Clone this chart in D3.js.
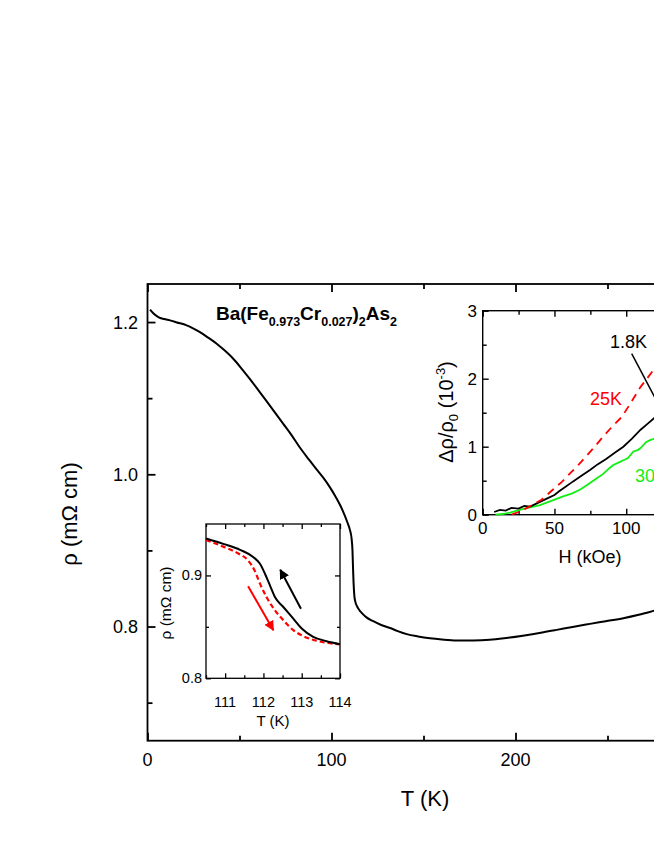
<!DOCTYPE html>
<head>
  <meta charset="utf-8">
  <script src="https://cdn.jsdelivr.net/npm/d3@7"></script>
  <style>
    body { margin:0; background:#fff; }
    svg { display:block; }
    text { font-family: "Liberation Sans", Arial, sans-serif; fill:#000; }
  </style>
</head>
<body>
<script>
// main curve: rho(T)
var mainT = [1.4, 3, 5.9, 9, 12.2, 16, 21.3, 25, 28.5, 33, 37.6, 42, 46.6, 51, 55.7, 60, 64.8, 69, 73.8, 78, 83, 88, 92, 95.5, 99, 102, 104.8, 107, 108.6, 110, 110.9, 111.4, 111.7, 112, 112.4, 113, 114, 115.3, 116.4, 119, 122.7, 127, 131.8, 136, 140.9, 147, 153.5, 160, 168, 177, 186, 195, 204, 213, 222.4, 231, 240.5, 249, 258.6, 267, 275.3, 285, 295];
var mainRho = [1.2163, 1.212, 1.2066, 1.204, 1.2022, 1.1995, 1.1957, 1.1915, 1.1868, 1.1795, 1.1716, 1.1625, 1.1518, 1.1393, 1.125, 1.1113, 1.0957, 1.082, 1.0663, 1.0525, 1.0345, 1.0185, 1.006, 0.9955, 0.9835, 0.9715, 0.959, 0.947, 0.937, 0.927, 0.916, 0.9, 0.877, 0.857, 0.841, 0.832, 0.826, 0.821, 0.818, 0.812, 0.807, 0.802, 0.798, 0.794, 0.79, 0.787, 0.7846, 0.783, 0.7818, 0.7818, 0.7826, 0.785, 0.788, 0.7915, 0.7956, 0.7995, 0.8035, 0.807, 0.811, 0.8155, 0.8207, 0.827, 0.833];

// small inset: hysteresis around the transition
var warmT = [110.5, 110.95, 111.39, 111.74, 111.91, 112.04, 112.17, 112.3, 112.52, 112.78, 113.0, 113.3, 113.65, 114];
var warmRho = [0.936, 0.9307, 0.9249, 0.9177, 0.9113, 0.9016, 0.8903, 0.879, 0.8693, 0.858, 0.8484, 0.8403, 0.8361, 0.8332];
var coolT = [110.5, 110.95, 111.33, 111.6, 111.77, 111.91, 112.08, 112.3, 112.52, 112.78, 113.04, 113.39, 114];
var coolRho = [0.9345, 0.928, 0.9216, 0.9145, 0.9048, 0.892, 0.879, 0.8661, 0.8565, 0.8468, 0.841, 0.8365, 0.833];
var arrowUp = [[112.98, 0.8677], [112.44, 0.9055]];
var arrowDown = [[111.6, 0.8894], [112.26, 0.8468]];

// right inset: magnetoresistance
var mrH18 = [8, 12, 16, 20, 25, 29, 33, 37, 41, 45, 50, 53, 57, 63, 68, 75, 80, 86, 92, 98, 104, 110, 115, 120, 125];
var mr18 = [0.04, 0.07, 0.06, 0.1, 0.09, 0.13, 0.12, 0.16, 0.2, 0.24, 0.29, 0.34, 0.4, 0.49, 0.56, 0.66, 0.74, 0.82, 0.91, 1.0, 1.12, 1.25, 1.34, 1.43, 1.55];
var mrH25 = [20, 25, 30, 35, 41, 49, 55, 61, 67, 72.5, 78, 84, 90, 97, 103, 110, 114.4, 119, 125];
var mr25 = [0, 0.04, 0.09, 0.15, 0.22, 0.37, 0.48, 0.61, 0.74, 0.87, 1.0, 1.15, 1.29, 1.44, 1.64, 1.88, 2.0, 2.13, 2.3];
var mrH30 = [9, 14, 19, 24, 29, 34, 40, 45, 51, 56, 62, 68, 73, 79, 84, 88, 91, 95, 98, 101, 105, 108, 110, 114, 117, 120, 125];
var mr30 = [0, 0.01, 0.03, 0.06, 0.09, 0.11, 0.14, 0.18, 0.23, 0.27, 0.31, 0.37, 0.44, 0.53, 0.6, 0.68, 0.73, 0.77, 0.8, 0.83, 0.93, 0.95, 0.98, 1.07, 1.1, 1.12, 1.2];

var width = 654, height = 846;
var svg = d3.select("body").append("svg").attr("width", width).attr("height", height);

svg.append("defs").selectAll("marker")
  .data([["headK", "#000"], ["headR", "#f00"]])
  .enter().append("marker")
  .attr("id", function(d) { return d[0]; })
  .attr("viewBox", "0 0 10 10").attr("refX", 9).attr("refY", 5)
  .attr("markerWidth", 5).attr("markerHeight", 5)
  .attr("markerUnits", "strokeWidth").attr("orient", "auto")
  .append("path").attr("d", "M0,0L10,5L0,10z").attr("fill", function(d) { return d[1]; });

// box with inward ticks on all four sides
function frame(g, x, y, xMajor, xMinor, yMajor, yMinor, bigT, smallT, lw) {
  var x0 = x.range()[0], x1 = x.range()[1], y0 = y.range()[0], y1 = y.range()[1];
  var ax = [
    [d3.axisBottom(x), "translate(0," + y0 + ")"],
    [d3.axisTop(x), "translate(0," + y1 + ")"]
  ];
  var ay = [
    [d3.axisLeft(y), "translate(" + x0 + ",0)"],
    [d3.axisRight(y), "translate(" + x1 + ",0)"]
  ];
  ax.forEach(function(a) {
    g.append("g").attr("transform", a[1]).call(a[0].tickValues(xMajor).tickSize(-bigT).tickFormat(""));
    g.append("g").attr("transform", a[1]).call(a[0].tickValues(xMinor).tickSize(-smallT).tickFormat(""));
  });
  ay.forEach(function(a) {
    g.append("g").attr("transform", a[1]).call(a[0].tickValues(yMajor).tickSize(-bigT).tickFormat(""));
    g.append("g").attr("transform", a[1]).call(a[0].tickValues(yMinor).tickSize(-smallT).tickFormat(""));
  });
  g.selectAll(".domain").remove();
  g.selectAll(".tick line").attr("stroke", "#000").attr("stroke-width", lw);
  g.append("rect").attr("x", x0).attr("y", y1).attr("width", x1 - x0).attr("height", y0 - y1)
    .attr("fill", "none").attr("stroke", "#000").attr("stroke-width", lw);
}

// ---- main plot ----
var x = d3.scaleLinear().domain([0, 300]).range([147.5, 699.5]);
var y = d3.scaleLinear().domain([0.65, 1.25]).range([740.7, 284]);
var main = svg.append("g");
frame(main, x, y, [0, 100, 200, 300], [50, 150, 250], [0.8, 1.0, 1.2], [0.7, 0.9, 1.1], 8, 5, 1.8);

main.selectAll("text.xt").data([0, 100, 200]).enter().append("text")
  .attr("x", function(d) { return x(d); }).attr("y", 766)
  .attr("text-anchor", "middle").style("font-size", "18px").text(function(d) { return d; });
main.selectAll("text.yt").data([0.8, 1.0, 1.2]).enter().append("text")
  .attr("x", 138).attr("y", function(d) { return y(d) + 6.5; })
  .attr("text-anchor", "end").style("font-size", "18px").text(function(d) { return d.toFixed(1); });
main.append("text").attr("x", 425).attr("y", 806).attr("text-anchor", "middle")
  .style("font-size", "22px").text("T (K)");
main.append("text").attr("transform", "translate(77,514) rotate(-90)").attr("text-anchor", "middle")
  .style("font-size", "22px").text("ρ (mΩ cm)");

var line = d3.line().x(function(d) { return x(d[0]); }).y(function(d) { return y(d[1]); }).curve(d3.curveMonotoneX);
main.append("path").datum(mainT.map(function(t, i) { return [t, mainRho[i]]; }))
  .attr("d", line).attr("fill", "none").attr("stroke", "#000").attr("stroke-width", 2);

var title = main.append("text").attr("x", 216).attr("y", 320)
  .style("font-size", "19px").style("font-weight", "bold");
[["Ba(Fe", 0], ["0.973", 1], ["Cr", 0], ["0.027", 1], [")", 0], ["2", 1], ["As", 0], ["2", 1]]
  .forEach(function(p, i, arr) {
    var prev = i > 0 ? arr[i - 1][1] : 0;
    title.append("tspan").attr("dy", (p[1] - prev) * 6)
      .style("font-size", p[1] ? "12.5px" : "19px").text(p[0]);
  });

// ---- small inset ----
var sx = d3.scaleLinear().domain([110.5, 114]).range([206, 340]);
var sy = d3.scaleLinear().domain([0.8, 0.95]).range([678.3, 524]);
var ins = svg.append("g");
ins.append("rect").attr("x", 206).attr("y", 524).attr("width", 134).attr("height", 154.3).attr("fill", "#fff");
frame(ins, sx, sy, [111, 112, 113, 114], [110.5, 111.5, 112.5, 113.5], [0.8, 0.9], [0.85], 5, 3, 1.3);
ins.selectAll("text.xt").data([111, 112, 113, 114]).enter().append("text")
  .attr("x", function(d) { return sx(d); }).attr("y", 707)
  .attr("text-anchor", "middle").style("font-size", "14.5px").text(function(d) { return d; });
ins.selectAll("text.yt").data([0.8, 0.9]).enter().append("text")
  .attr("x", 202).attr("y", function(d) { return sy(d) + 5; })
  .attr("text-anchor", "end").style("font-size", "14.5px").text(function(d) { return d.toFixed(1); });
ins.append("text").attr("x", 273).attr("y", 726).attr("text-anchor", "middle")
  .style("font-size", "15px").text("T (K)");
ins.append("text").attr("transform", "translate(171,603) rotate(-90)").attr("text-anchor", "middle")
  .style("font-size", "15.5px").text("ρ (mΩ cm)");

var sline = d3.line().x(function(d) { return sx(d[0]); }).y(function(d) { return sy(d[1]); }).curve(d3.curveMonotoneX);
ins.append("path").datum(coolT.map(function(t, i) { return [t, coolRho[i]]; }))
  .attr("d", sline).attr("fill", "none").attr("stroke", "#f00").attr("stroke-width", 2.2)
  .attr("stroke-dasharray", "5,3");
ins.append("path").datum(warmT.map(function(t, i) { return [t, warmRho[i]]; }))
  .attr("d", sline).attr("fill", "none").attr("stroke", "#000").attr("stroke-width", 2);
[[arrowUp, "#000", "headK"], [arrowDown, "#f00", "headR"]].forEach(function(a) {
  ins.append("line")
    .attr("x1", sx(a[0][0][0])).attr("y1", sy(a[0][0][1]))
    .attr("x2", sx(a[0][1][0])).attr("y2", sy(a[0][1][1]))
    .attr("stroke", a[1]).attr("stroke-width", 2).attr("marker-end", "url(#" + a[2] + ")");
});

// ---- right inset ----
var hx = d3.scaleLinear().domain([0, 150]).range([482.7, 698]);
var hy = d3.scaleLinear().domain([0, 3]).range([514.7, 310.7]);
var mr = svg.append("g");
mr.append("rect").attr("x", 482.7).attr("y", 310.7).attr("width", 215.3).attr("height", 204).attr("fill", "#fff");
frame(mr, hx, hy, [0, 50, 100, 150], [25, 75, 125], [0, 1, 2, 3], [0.5, 1.5, 2.5], 6, 4, 1.4);
mr.selectAll("text.xt").data([0, 50, 100]).enter().append("text")
  .attr("x", function(d) { return hx(d); }).attr("y", 534)
  .attr("text-anchor", "middle").style("font-size", "17px").text(function(d) { return d; });
mr.selectAll("text.yt").data([0, 1, 2, 3]).enter().append("text")
  .attr("x", 477).attr("y", function(d) { return hy(d) + 6; })
  .attr("text-anchor", "end").style("font-size", "17px").text(function(d) { return d; });
mr.append("text").attr("x", 590).attr("y", 563).attr("text-anchor", "middle")
  .style("font-size", "18px").text("H (kOe)");
var yl = mr.append("text").attr("transform", "translate(453,412) rotate(-90)").attr("text-anchor", "middle")
  .style("font-size", "20px");
yl.append("tspan").text("Δρ/ρ");
yl.append("tspan").attr("dy", 5).style("font-size", "13px").text("0");
yl.append("tspan").attr("dy", -5).text(" (10");
yl.append("tspan").attr("dy", -8).style("font-size", "13px").text("-3");
yl.append("tspan").attr("dy", 8).text(")");

var hline = d3.line().x(function(d) { return hx(d[0]); }).y(function(d) { return hy(d[1]); });
[[mrH30, mr30, "#11ee11", null], [mrH18, mr18, "#000", null], [mrH25, mr25, "#f00", "8,6"]].forEach(function(s) {
  mr.append("path").datum(s[0].map(function(h, i) { return [h, s[1][i]]; }))
    .attr("d", hline).attr("fill", "none").attr("stroke", s[2]).attr("stroke-width", 1.8)
    .attr("stroke-dasharray", s[3]);
});
mr.append("line").attr("x1", hx(103.8)).attr("y1", hy(2.37)).attr("x2", hx(122)).attr("y2", hy(1.64))
  .attr("stroke", "#000").attr("stroke-width", 1.5);
[["1.8K", 610, 348, "#000"], ["25K", 590, 405, "#f00"], ["30K", 635, 482, "#11ee11"]].forEach(function(l) {
  mr.append("text").attr("x", l[1]).attr("y", l[2]).style("font-size", "18px")
    .style("fill", l[3]).text(l[0]);
});
</script>
</body>
